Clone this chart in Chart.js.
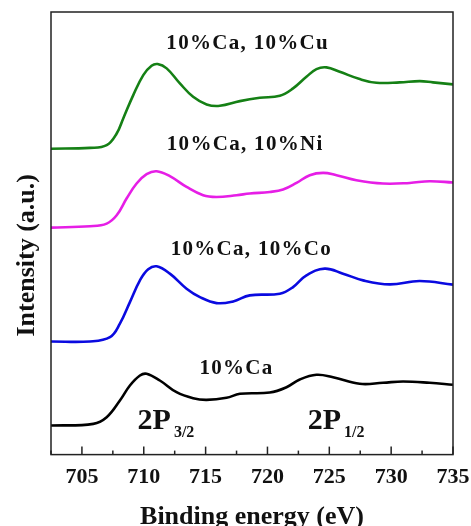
<!DOCTYPE html>
<html>
<head>
<meta charset="utf-8">
<script src="https://cdn.jsdelivr.net/npm/chart.js@4/dist/chart.umd.min.js"></script>
<style>
  html, body { margin: 0; padding: 0; background: #fff; }
  #wrap { width: 471px; height: 526px; position: relative; }
</style>
</head>
<body>
<div id="wrap"><canvas id="xpsChart"></canvas></div>
<script>
// Fe 2p spectra, stacked with vertical offsets (arbitrary units)
const energyCu = [702.5, 705.65, 707.0, 707.81, 708.34, 709.15, 709.96, 710.63, 711.12, 711.85, 712.92, 713.99, 715.08, 716.15, 717.77, 719.38, 721.0, 722.07, 723.15, 723.96, 724.77, 725.84, 727.46, 728.81, 730.69, 732.31, 733.38, 735];
const intensityCu = [305.5, 306.3, 309, 320.7, 335.7, 359, 379, 388.3, 390, 385.7, 370.7, 357.3, 349.7, 348.3, 353, 356.3, 358.3, 365.7, 377.3, 385, 386.7, 382.3, 375, 371.3, 371.7, 373, 371.7, 369.7];

const energyNi = [702.5, 705.65, 707.0, 707.81, 708.61, 709.42, 710.23, 711.04, 712.11, 713.46, 714.8, 715.88, 717.5, 718.57, 720.19, 721.26, 722.35, 723.42, 724.5, 725.58, 727.19, 729.34, 731.5, 733.11, 735];
const intensityNi = [226.7, 228, 230.7, 239, 255.7, 270.7, 280, 283, 278, 267.3, 259, 257.3, 259, 260.7, 262.3, 264.7, 271.3, 279, 281.3, 279, 274, 270.7, 271.3, 273, 271.7];

const energyCo = [702.5, 705.65, 707.27, 708.07, 708.88, 709.69, 710.36, 711.04, 712.11, 713.46, 714.54, 715.88, 717.23, 718.57, 721.0, 722.07, 723.15, 724.63, 726.11, 727.73, 729.88, 732.31, 735];
const intensityCo = [113, 113, 117.3, 130.7, 152.3, 174, 185, 188, 180.7, 165.7, 157.3, 151.3, 153, 159, 160.7, 167.3, 179, 185.7, 180.7, 174, 170, 173.3, 169.7];

const energyCa = [702.5, 705.92, 707.0, 708.07, 708.88, 709.69, 710.23, 711.3, 712.65, 713.99, 715.08, 716.69, 717.77, 720.19, 721.54, 722.61, 723.96, 725.3, 727.46, 729.34, 730.96, 733.11, 735];
const intensityCa = [29, 30.7, 37.3, 54, 69, 79, 80.7, 74, 62.3, 56.3, 54.7, 56.7, 60.7, 62, 67.3, 75, 79.7, 77.3, 70.7, 71.7, 73, 71.7, 69.7];

const sampleNames = ['10%Ca, 10%Cu', '10%Ca, 10%Ni', '10%Ca, 10%Co', '10%Ca'];
const lineColors = ['#158015', '#e61ee6', '#0a0ae0', '#000000'];
// where each sample name is written (energy, intensity)
const nameX = [718.4, 718.2, 718.7, 717.5];
const nameY = [410, 310, 205, 86];

// spin-orbit peak labels
const peakMain = ['2P', '2P'];
const peakSub = ['3/2', '1/2'];
const peakX = [709.5, 723.25];
const peakY = [26, 26];

const xMin = 702.5, xMax = 735;
const serif = "'Liberation Serif', 'Times New Roman', serif";

const toPoints = (xs, ys) => xs.map((x, i) => ({ x: x, y: ys[i] }));
const seriesX = [energyCu, energyNi, energyCo, energyCa];
const seriesY = [intensityCu, intensityNi, intensityCo, intensityCa];

const datasets = seriesX.map((xs, i) => ({
    label: sampleNames[i],
    data: toPoints(xs, seriesY[i]),
    borderColor: lineColors[i],
    borderWidth: 2.6,
    pointRadius: 0,
    tension: 0.4,
    fill: false
}));

// frame, inward ticks, text labels and axis titles
const decorations = {
    id: 'decorations',
    afterDraw(chart) {
        const { ctx, chartArea: a, scales } = chart;
        const xs = scales.x, ys = scales.y;
        ctx.save();

        // inward tick marks on the bottom axis
        ctx.strokeStyle = '#222';
        ctx.lineWidth = 1.5;
        xs.ticks.forEach(t => {
            const px = xs.getPixelForValue(t.value);
            const major = Math.abs(t.value % 5) < 1e-6;
            ctx.beginPath();
            ctx.moveTo(px, a.bottom);
            ctx.lineTo(px, a.bottom - (major ? 8 : 4));
            ctx.stroke();
        });

        // box around the plot
        ctx.strokeRect(a.left, a.top, a.right - a.left, a.bottom - a.top);

        // sample names
        ctx.fillStyle = '#111';
        ctx.font = 'bold 21px ' + serif;
        ctx.letterSpacing = '1.3px';
        ctx.textAlign = 'center';
        ctx.textBaseline = 'middle';
        sampleNames.forEach((name, i) => {
            ctx.fillText(name, xs.getPixelForValue(nameX[i]), ys.getPixelForValue(nameY[i]));
        });
        ctx.letterSpacing = '0px';

        // 2P3/2 and 2P1/2
        ctx.textAlign = 'left';
        ctx.textBaseline = 'alphabetic';
        peakMain.forEach((txt, i) => {
            const px = xs.getPixelForValue(peakX[i]);
            const py = ys.getPixelForValue(peakY[i]);
            ctx.font = 'bold 30px ' + serif;
            ctx.fillText(txt, px, py);
            const w = ctx.measureText(txt).width;
            ctx.font = 'bold 16px ' + serif;
            ctx.fillText(peakSub[i], px + w + 3, py + 8);
        });

        // axis titles
        ctx.font = 'bold 26px ' + serif;
        ctx.textAlign = 'center';
        ctx.fillText('Binding energy (eV)', (a.left + a.right) / 2, 524);
        ctx.translate(a.left - 17, (a.top + a.bottom) / 2 + 22);
        ctx.rotate(-Math.PI / 2);
        ctx.fillText('Intensity (a.u.)', 0, 0);
        ctx.restore();
    }
};

new Chart(document.getElementById('xpsChart'), {
    type: 'line',
    data: { datasets: datasets },
    options: {
        responsive: true,
        maintainAspectRatio: false,
        animation: false,
        layout: { padding: { left: 51, right: 0, top: 12, bottom: 33 } },
        plugins: {
            legend: { display: false },
            tooltip: { enabled: false }
        },
        scales: {
            x: {
                type: 'linear',
                min: xMin,
                max: xMax,
                grid: { display: false },
                border: { display: false },
                afterFit: s => { s.paddingRight = 18; },
                ticks: {
                    stepSize: 2.5,
                    autoSkip: false,
                    maxRotation: 0,
                    padding: 2,
                    color: '#111',
                    font: { family: serif, size: 22, weight: 'bold' },
                    callback: v => (v % 5 === 0 ? String(v) : '')
                }
            },
            y: {
                display: false,
                min: 0,
                max: 442
            }
        }
    },
    plugins: [decorations]
});
</script>
</body>
</html>
